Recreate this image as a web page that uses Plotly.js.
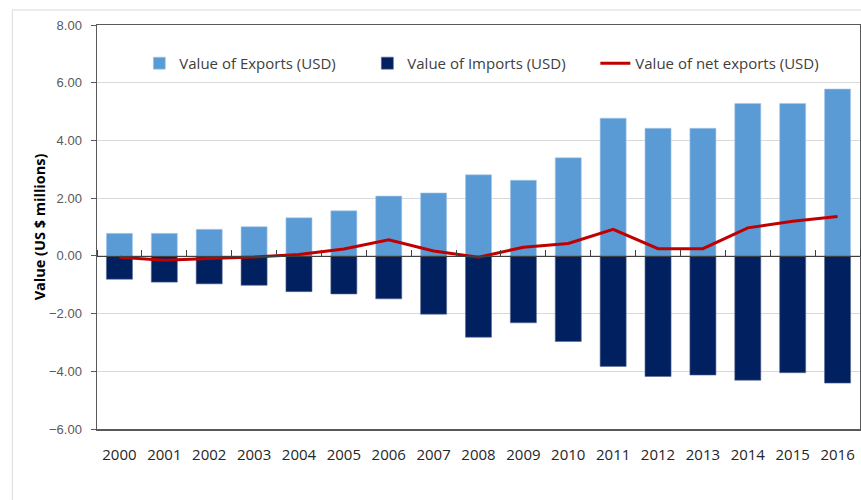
<!DOCTYPE html>
<html>
<head>
<meta charset="utf-8">
<script src="https://cdn.plot.ly/plotly-3.0.1.min.js"></script>
<style>html,body{margin:0;padding:0;background:#fff;}#chart{width:861px;height:500px;}</style>
</head>
<body>
<div id="chart"></div>
<script>
const years = ['2000','2001','2002','2003','2004','2005','2006','2007','2008','2009','2010','2011','2012','2013','2014','2015','2016'];
const exportsUSD = [0.78, 0.78, 0.92, 1.01, 1.32, 1.56, 2.07, 2.18, 2.81, 2.62, 3.40, 4.77, 4.42, 4.42, 5.28, 5.28, 5.78];
const importsUSD = [-0.81, -0.91, -0.97, -1.02, -1.24, -1.32, -1.49, -2.02, -2.82, -2.32, -2.97, -3.83, -4.18, -4.13, -4.31, -4.05, -4.41];
const netExportsUSD = [-0.05, -0.15, -0.09, -0.04, 0.05, 0.24, 0.56, 0.17, -0.05, 0.30, 0.43, 0.92, 0.25, 0.25, 0.97, 1.20, 1.36];
const yTickVals = [-6, -4, -2, 0, 2, 4, 6, 8];

const fontFam = 'Liberation Sans, Arial, sans-serif';
const humanist = 'Open Sans, Noto Sans, sans-serif';

const traces = [
  {type: 'bar', name: 'Value of Exports (USD)', x: years, y: exportsUSD,
   marker: {color: '#5B9BD5', line: {color: '#a9c8ea', width: 0.6}}, hoverinfo: 'x+y'},
  {type: 'bar', name: 'Value of Imports (USD)', x: years, y: importsUSD,
   marker: {color: '#002060', line: {color: '#5a6a90', width: 0.6}}, hoverinfo: 'x+y'},
  {type: 'scatter', mode: 'lines', name: 'Value of net exports (USD)', x: years, y: netExportsUSD,
   line: {color: '#C00000', width: 3}},
  {type: 'scatter', mode: 'lines', x: years, y: netExportsUSD, xaxis: 'x2', yaxis: 'y',
   showlegend: false, hoverinfo: 'skip', opacity: 0, line: {width: 0}}
];

const layout = {
  width: 861, height: 500,
  margin: {l: 97, r: 1, t: 25, b: 71},
  paper_bgcolor: '#ffffff', plot_bgcolor: '#ffffff',
  barmode: 'relative', bargap: 0.42,
  font: {family: fontFam, color: '#404040'},
  showlegend: true,
  legend: {orientation: 'h', x: 0.0555, y: 0.905, xanchor: 'left', yanchor: 'middle',
           font: {family: humanist, size: 15, color: '#404040'}, bgcolor: 'rgba(0,0,0,0)',
           traceorder: 'normal', itemwidth: 30, tracegroupgap: 0, entrywidth: 183},
  xaxis: {type: 'category', showgrid: false, ticks: '', showline: true, mirror: true,
          linecolor: '#595959', linewidth: 1.5, zeroline: false,
          tickfont: {family: humanist, size: 15, color: '#262626'}, ticklabelstandoff: 11},
  xaxis2: {type: 'category', overlaying: 'x', anchor: 'free', position: 6/14, side: 'top',
           showticklabels: false, ticks: 'outside', tickson: 'boundaries', ticklen: 6,
           tickcolor: '#404040', tickwidth: 1, showline: true, linecolor: '#404040',
           linewidth: 1.5, showgrid: false, zeroline: false, range: [-0.5, 16.5]},
  yaxis: {range: [-6, 8], tickvals: yTickVals, tickformat: '.2f', showgrid: true,
          gridcolor: '#d9d9d9', gridwidth: 1, zeroline: false, showline: true, mirror: true,
          linecolor: '#595959', linewidth: 1.5, ticks: 'outside', ticklen: 5,
          tickcolor: '#595959', tickfont: {family: fontFam, size: 13, color: '#595959'},
          ticklabelstandoff: 6,
          title: {text: 'Value (US $ millions)', font: {family: humanist, size: 14.5, color: '#000000', weight: 'bold'}, standoff: 0}},
  shapes: [
    {type: 'rect', xref: 'paper', yref: 'paper', x0: -0.111, x1: 1.2, y0: -0.3, y1: 1.037,
     line: {color: '#d9d9d9', width: 1}, fillcolor: 'rgba(0,0,0,0)', layer: 'below'}
  ]
};

Plotly.newPlot('chart', traces, layout, {displayModeBar: false, staticPlot: true});
</script>
</body>
</html>
